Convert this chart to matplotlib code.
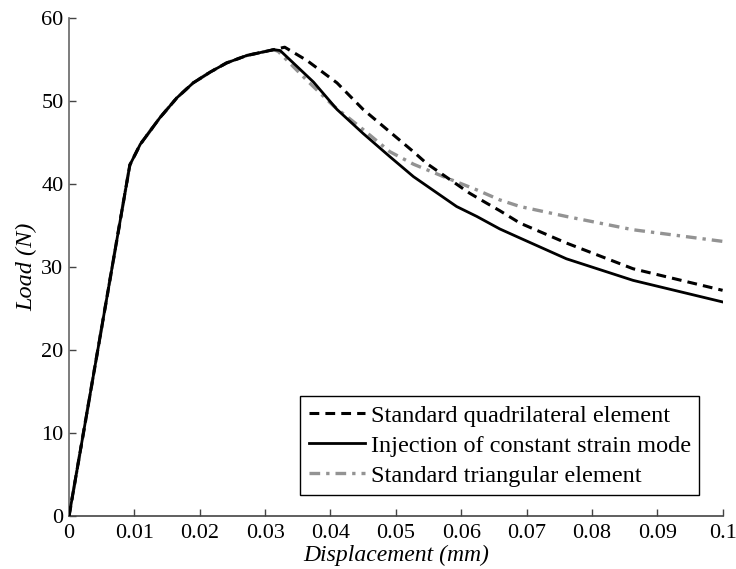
import numpy as np
import matplotlib
matplotlib.use("Agg")
import matplotlib.pyplot as plt

plt.rcParams['font.family'] = ['Liberation Serif', 'DejaVu Serif']

# shared loading branch
x_rise = [0, 0.0093, 0.0109, 0.0139, 0.0165, 0.019, 0.0216, 0.0241, 0.0272, 0.0313]
y_rise = [0, 42.3, 44.8, 48.0, 50.4, 52.2, 53.5, 54.6, 55.5, 56.2]

# standard quadrilateral element (dashed)
x_quad = [0.033, 0.0364, 0.041, 0.045, 0.0527, 0.0547, 0.0613, 0.0639, 0.0659, 0.069, 0.0761, 0.0863, 0.1]
y_quad = [56.5, 54.9, 52.2, 49.0, 43.9, 42.5, 38.9, 37.7, 36.8, 35.3, 32.9, 29.8, 27.2]

# injection of constant strain mode (solid)
x_inj = [0.0323, 0.0374, 0.041, 0.045, 0.0491, 0.0527, 0.0593, 0.0624, 0.0659, 0.069, 0.0761, 0.0863, 0.1]
y_inj = [56.1, 52.3, 49.0, 46.1, 43.3, 40.9, 37.3, 36.1, 34.6, 33.5, 31.0, 28.4, 25.8]

# standard triangular element (dash-dot, grey)
x_tri = [0.032, 0.0364, 0.0405, 0.0445, 0.0491, 0.0527, 0.0573, 0.0624, 0.0659, 0.069, 0.0761, 0.0863, 0.1]
y_tri = [56.0, 52.5, 49.4, 46.9, 43.9, 42.4, 40.9, 39.3, 38.1, 37.3, 36.1, 34.5, 33.1]

labels = ["Standard quadrilateral element",
          "Injection of constant strain mode",
          "Standard triangular element"]
xticks = [0, 0.01, 0.02, 0.03, 0.04, 0.05, 0.06, 0.07, 0.08, 0.09, 0.1]
xticklabels = ["0", "0.01", "0.02", "0.03", "0.04", "0.05", "0.06", "0.07", "0.08", "0.09", "0.1"]
yticks = [0, 10, 20, 30, 40, 50, 60]

fig = plt.figure(figsize=(7.36, 5.69), dpi=100)
ax = fig.add_axes([0.0938, 0.0931, 0.888, 0.875])

ax.plot(x_rise + x_tri, y_rise + y_tri, color="#939393", lw=2.4,
        linestyle=(0, (3.2, 1.8, 1.0, 1.8)), label=labels[2], zorder=2)
ax.plot(x_rise + x_inj, y_rise + y_inj, color="black", lw=2.0,
        linestyle="-", label=labels[1], zorder=3)
ax.plot(x_rise + x_quad, y_rise + y_quad, color="black", lw=2.2,
        linestyle=(0, (3.2, 2.0)), label=labels[0], zorder=4)

ax.set_xlim(0, 0.1)
ax.set_ylim(0, 60)
ax.set_xticks(xticks)
ax.set_xticklabels(xticklabels)
ax.set_yticks(yticks)
ax.tick_params(direction="in", length=5, width=1, color="#444444",
               labelsize=16)
ax.tick_params(axis="x", pad=6)
ax.tick_params(axis="y", pad=4)

for s in ["top", "right"]:
    ax.spines[s].set_visible(False)
ax.spines["left"].set_color("#666666")
ax.spines["bottom"].set_color("#444444")
ax.spines["left"].set_linewidth(1.2)
ax.spines["bottom"].set_linewidth(1.2)

ax.set_xlabel("Displacement (mm)", style="italic", fontsize=17, labelpad=1)
ax.set_ylabel("Load (N)", style="italic", fontsize=17.5, labelpad=3)

h, l = ax.get_legend_handles_labels()
order = [2, 1, 0]
leg = ax.legend([h[i] for i in order], [l[i] for i in order],
                loc="lower right", bbox_to_anchor=(0.9645, 0.042),
                borderaxespad=0, fontsize=17.5, handlelength=2.3,
                fancybox=False, framealpha=1, edgecolor="black",
                labelspacing=0.33, borderpad=0.35, handletextpad=0.25)
leg.get_frame().set_linewidth(1.0)

fig.savefig("out.png", dpi=100)
